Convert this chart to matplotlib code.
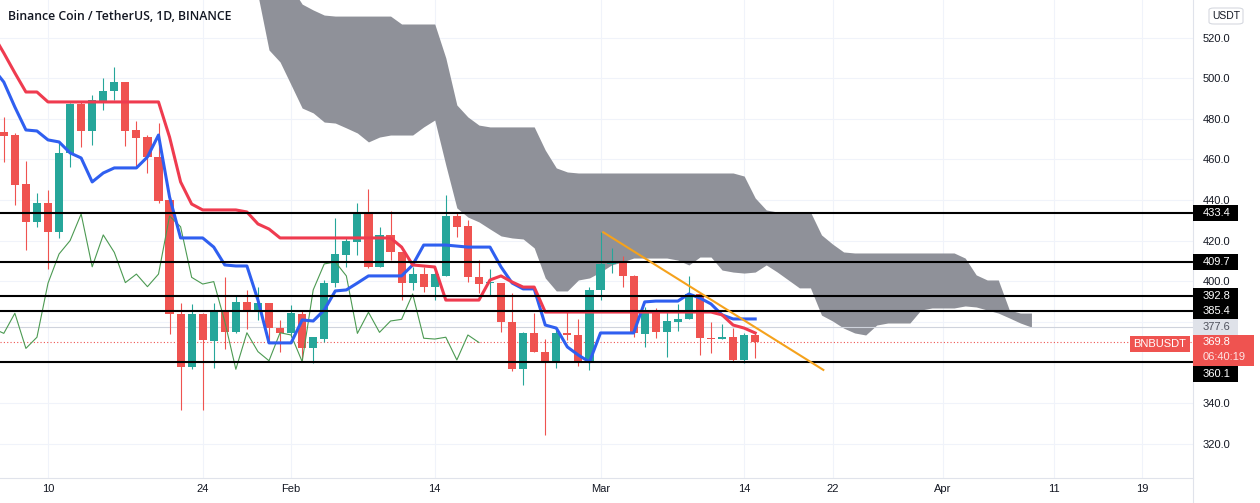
import numpy as np
import pandas as pd
import matplotlib
matplotlib.use('Agg')
import matplotlib.pyplot as plt
import matplotlib.dates as mdates
from matplotlib.patches import Rectangle, FancyBboxPatch
from matplotlib.lines import Line2D

plt.rcParams['font.family'] = ['Liberation Sans', 'DejaVu Sans']

# Daily candles BNB/USDT, 6 Jan - 15 Mar 2022
dates = pd.date_range('2022-01-06', '2022-03-15', freq='D')
opens = [473.3, 472.0, 447.9, 429.3, 438.5, 424.4, 463.2, 487.3, 474.1, 488.8,
         493.7, 498.3, 474.5, 471.2, 461.3, 440.0, 383.8, 357.9, 383.8, 370.7,
         385.0, 374.8, 389.6, 385.3, 389.1, 376.8, 374.3, 383.8, 366.9, 371.5,
         399.3, 412.9, 419.5, 433.1, 407.1, 422.8, 414.2, 399.3, 403.5, 397.3,
         402.7, 432.1, 427.2, 401.9, 399.0, 399.3, 380.1, 356.6, 374.6, 365.3,
         360.8, 374.6, 373.5, 360.1, 395.7, 408.5, 409.6, 402.6, 373.8, 384.7,
         374.8, 380.1, 381.2, 393.7, 372.2, 371.7, 372.4, 361.2, 373.5]
highs = [481.0, 473.0, 459.2, 443.6, 444.9, 468.1, 487.8, 488.4, 491.7, 500.1,
         505.7, 498.3, 479.1, 472.0, 477.9, 440.0, 389.3, 388.8, 384.3, 389.3,
         402.2, 393.2, 395.7, 397.3, 389.1, 380.9, 388.3, 385.8, 372.4, 400.6,
         431.0, 421.9, 438.7, 445.3, 426.8, 434.7, 414.2, 407.1, 407.1, 405.5,
         442.5, 433.4, 430.1, 410.4, 406.0, 399.3, 394.0, 375.1, 384.2, 371.4,
         376.8, 385.5, 381.2, 397.0, 424.4, 416.2, 412.4, 403.1, 387.4, 386.7,
         385.5, 388.8, 402.6, 394.0, 380.1, 378.9, 376.8, 374.3, 374.3]
lows = [458.9, 437.5, 415.4, 426.8, 406.0, 421.3, 456.3, 466.3, 467.1, 484.3,
        489.3, 466.7, 456.4, 453.3, 438.5, 374.0, 336.6, 356.6, 336.6, 357.4,
        366.5, 374.5, 376.3, 380.9, 371.0, 365.3, 372.7, 361.2, 359.6, 370.2,
        397.3, 407.1, 412.9, 406.4, 407.1, 410.4, 390.7, 395.7, 394.8, 390.7,
        402.7, 421.6, 399.8, 394.0, 393.2, 375.1, 355.9, 348.9, 365.3, 324.2,
        357.2, 371.0, 358.2, 356.3, 390.7, 403.9, 397.3, 372.7, 367.4, 371.9,
        362.8, 375.6, 381.2, 363.6, 364.5, 371.5, 360.8, 359.6, 362.0]
closes = [471.7, 447.4, 429.3, 438.5, 424.2, 463.2, 487.3, 474.1, 489.3, 493.7,
          498.0, 474.1, 470.7, 461.0, 439.7, 383.8, 357.9, 383.8, 371.0, 384.7,
          374.8, 389.6, 385.3, 389.1, 376.8, 374.3, 384.2, 366.9, 372.4, 399.0,
          413.4, 420.0, 433.1, 407.1, 422.8, 414.2, 399.3, 403.5, 397.3, 403.5,
          432.1, 426.8, 401.9, 398.6, 399.8, 380.1, 356.6, 374.6, 365.3, 360.8,
          374.6, 373.5, 360.4, 395.7, 408.5, 409.5, 402.6, 374.3, 384.7, 374.8,
          380.4, 381.2, 393.7, 371.9, 371.5, 372.4, 361.2, 373.5, 369.8]

# Ichimoku lines, 5 Jan - 15 Mar
line_dates = pd.date_range('2022-01-05', '2022-03-15', freq='D')
tenkan = [505.0,
          498.1, 485.8, 474.5, 474.0, 469.6, 468.6, 463.2, 460.7, 448.9, 453.3,
          455.8, 455.8, 455.8, 461.2, 472.0, 441.5, 421.3, 421.3, 421.3, 416.8,
          408.0, 407.5, 407.5, 390.7, 369.6, 369.6, 369.6, 380.9, 380.4, 385.8,
          395.2, 395.7, 399.1, 402.6, 402.6, 402.6, 402.6, 408.0, 417.8, 417.8,
          417.8, 417.3, 416.8, 416.8, 416.8, 407.0, 399.1, 396.2, 396.2, 378.4,
          376.9, 367.6, 363.6, 360.2, 374.5, 374.5, 374.5, 374.5, 389.8, 390.2,
          390.2, 390.2, 393.7, 391.7, 388.8, 383.4, 381.4, 381.4, 381.4]
kijun = [521.7,
         512.4, 502.6, 493.2, 493.2, 488.3, 488.3, 488.3, 488.3, 488.3, 488.3,
         488.3, 488.3, 488.3, 488.3, 488.3, 471.0, 448.9, 438.0, 435.1, 435.1,
         435.1, 435.1, 434.1, 428.2, 425.7, 421.3, 421.3, 421.3, 421.3, 421.3,
         421.3, 421.3, 421.3, 421.3, 421.3, 421.3, 416.8, 408.0, 407.5, 407.0,
         390.7, 390.7, 390.7, 390.7, 400.6, 402.6, 399.6, 397.1, 397.1, 384.8,
         384.8, 384.8, 384.8, 384.8, 384.8, 384.8, 384.8, 384.8, 384.8, 384.8,
         384.8, 384.8, 384.8, 384.8, 384.8, 383.4, 378.4, 376.9, 374.5]
lag_days = 25

# cloud, 29 Jan - 9 Apr
cloud_dates = pd.date_range('2022-01-29', '2022-04-09', freq='D')
cloud_upper = [565.0, 560.0, 553.0, 545.0, 536.5, 533.6, 531.1, 530.6, 530.6, 530.6,
               530.6, 530.6, 530.6, 526.7, 526.7, 526.7, 526.7, 510.0, 486.8, 480.9,
               476.9, 476.0, 476.0, 476.0, 476.0, 476.0, 464.6, 455.8, 453.8, 453.3,
               453.3, 453.3, 453.3, 453.3, 453.3, 453.3, 453.3, 453.3, 453.3, 453.3,
               453.3, 453.3, 453.3, 453.3, 451.8, 441.0, 435.1, 434.1, 434.1, 434.1,
               434.1, 422.8, 418.3, 414.4, 413.9, 413.9, 413.9, 413.9, 413.9, 413.9,
               413.9, 413.9, 413.9, 413.9, 411.4, 403.1, 400.6, 400.6, 385.8, 384.3, 384.3]
cloud_lower = [540.9, 513.9, 508.0, 496.7, 485.3, 482.9, 478.4, 477.9, 475.5, 473.0,
               468.6, 471.0, 472.0, 472.0, 472.0, 476.0, 479.4, 457.2, 436.1, 431.6,
               429.2, 425.7, 422.3, 421.3, 420.8, 416.4, 401.6, 395.2, 395.2, 400.6,
               401.6, 404.5, 408.0, 409.5, 411.4, 411.4, 411.4, 411.4, 410.4, 408.0,
               411.9, 411.9, 405.5, 404.5, 404.0, 404.5, 408.0, 404.5, 400.6, 396.7,
               396.7, 383.3, 380.4, 376.9, 374.5, 373.5, 378.4, 379.4, 379.4, 379.4,
               385.8, 386.8, 386.8, 386.8, 387.8, 387.3, 385.8, 384.3, 381.9, 379.4, 377.4]

# drawings
levels = [433.4, 409.7, 392.8, 385.4, 360.1]
trend_dates = ['2022-03-01 06:00', '2022-03-21 04:00']
trend_prices = [424.1, 356.3]
last_price = 369.8
senkou_last = 377.6

tick_dates = ['2022-01-10', '2022-01-24', '2022-02-01', '2022-02-14', '2022-03-01',
              '2022-03-14', '2022-03-22', '2022-04-01', '2022-04-11', '2022-04-19']
tick_labels = ['10', '24', 'Feb', '14', 'Mar', '14', '22', 'Apr', '11', '19']
price_ticks = [320, 340, 360, 380, 400, 420, 440, 460, 480, 500, 520]

GREEN = '#26a69a'
RED = '#ef5350'
TXT = '#131722'
W, H = 1260, 503

fig = plt.figure(figsize=(W / 100, H / 100), dpi=100)
ax = fig.add_axes([0, (H - 478) / H, 1193 / W, 478 / H])

xs = mdates.date2num(dates)
o = np.array(opens)
c = np.array(closes)
up = c >= o
cols = np.where(up, GREEN, RED)

# cloud
ax.fill_between(mdates.date2num(cloud_dates), cloud_lower, cloud_upper,
                color='#8f9199', lw=0, zorder=1)

# candles
ax.vlines(xs, lows, highs, colors=cols, lw=0.8, zorder=2)
body = np.maximum(np.abs(c - o), 0.5)
ax.bar(xs, body, bottom=np.minimum(o, c), width=0.74, color=cols, lw=0, zorder=2)

# lagging span + conversion / base lines
lx = mdates.date2num(line_dates)
ax.plot(xs - lag_days, closes, color='#4c9a52', lw=0.8, zorder=3)
ax.plot(lx, tenkan, color='#2f5ff0', lw=2.2, zorder=4, solid_joinstyle='round')
ax.plot(lx, kijun, color='#ef3b4f', lw=2.2, zorder=4, solid_joinstyle='round')

# horizontal helper lines
ax.axhline(senkou_last, color='#cfd3dc', lw=0.8, zorder=1.5)
ax.axhline(last_price, color=RED, lw=0.8, ls=(0, (1, 2)), zorder=1.5)
for lv in levels:
    ax.axhline(lv, color='black', lw=1.5, zorder=5)

ax.plot(mdates.date2num(pd.to_datetime(trend_dates)), trend_prices,
        color='#f5a21c', lw=1.5, zorder=6)

# axes
d0 = mdates.date2num(pd.Timestamp('2022-01-10'))
ax.set_xlim(d0 - 4.344, d0 + 103.62)
ax.set_ylim(303.05, 538.52)
ax.set_xticks(mdates.date2num(pd.to_datetime(tick_dates)))
ax.set_xticklabels(tick_labels)
ax.set_yticks(price_ticks)
ax.set_yticklabels(['' if p in (360, 380) else '%.1f' % p for p in price_ticks])
ax.yaxis.tick_right()
ax.tick_params(axis='both', length=0, labelsize=8, labelcolor=TXT)
ax.tick_params(axis='y', pad=7.2)
ax.tick_params(axis='x', pad=4)
ax.grid(color='#f0f3fa', lw=0.8, zorder=0)
ax.set_axisbelow(True)
for s in ['top', 'left', 'right']:
    ax.spines[s].set_visible(False)
ax.spines['bottom'].set_color('#e0e3eb')
fig.add_artist(Line2D([1193 / W, 1193 / W], [0, 1], color='#e0e3eb', lw=0.8))


def px_of(v):
    # pixel row (from top) of a price
    return H - ax.transData.transform((d0, v))[1]


def tag(v, label, fc, tc, w=45, h=16, dy=0):
    yc = px_of(v) + dy
    fig.add_artist(Rectangle((1193 / W, 1 - (yc + h / 2) / H), w / W, h / H,
                             transform=fig.transFigure, fc=fc, ec='none', zorder=5))
    fig.text(1203 / W, 1 - yc / H, label, color=tc, fontsize=8,
             ha='left', va='center', zorder=6)


for lv in levels:
    tag(lv, '%.1f' % lv, 'black', 'white', dy=12.3 if lv == 360.1 else 0)
tag(senkou_last, '%.1f' % senkou_last, '#dfe2e9', '#50535e')

# last price tag with countdown
yp = px_of(last_price)
fig.add_artist(Rectangle((1193 / W, 1 - (yp + 23.5) / H), 61 / W, 31 / H,
                         transform=fig.transFigure, fc=RED, ec='none', zorder=5))
fig.text(1203 / W, 1 - yp / H, '%.1f' % last_price, color='white', fontsize=8,
         ha='left', va='center', zorder=6)
fig.text(1203 / W, 1 - (yp + 15) / H, '06:40:19', color='white', alpha=0.85,
         fontsize=8, ha='left', va='center', zorder=6)
fig.add_artist(Rectangle((1130 / W, 1 - (yp + 9.5) / H), 60 / W, 16 / H,
                         transform=fig.transFigure, fc=RED, ec='none', zorder=5))
fig.text(1160 / W, 1 - (yp + 1.5) / H, 'BNBUSDT', color='white', fontsize=8,
         ha='center', va='center', zorder=6)

# currency button
fig.add_artist(FancyBboxPatch((1209 / W, 1 - 24 / H), 34 / W, 16 / H,
                              boxstyle='round,pad=0,rounding_size=0.004',
                              transform=fig.transFigure, fc='white', ec='#d6d9e0', lw=0.8))
fig.text(1226 / W, 1 - 16 / H, 'USDT', color=TXT, fontsize=7.5, ha='center', va='center')

fig.text(8 / W, 1 - 16 / H, 'Binance Coin / TetherUS, 1D, BINANCE', color=TXT,
         fontsize=8.8, family='Open Sans', weight='semibold', ha='left', va='center')

fig.savefig('out.png', dpi=100)
